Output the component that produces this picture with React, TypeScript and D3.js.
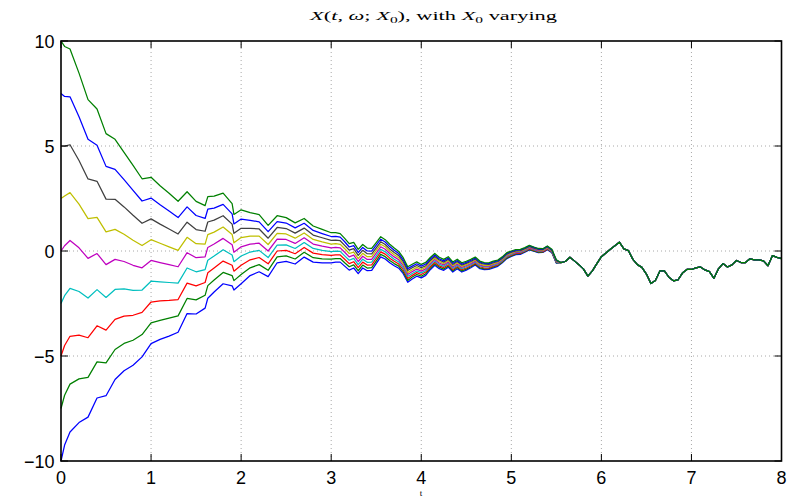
import React from "react";
import * as d3 from "d3";

// sample times (t axis)
const tEarly = [0,0.04,0.1,0.2,0.3,0.4,0.5,0.6,0.7,0.8,0.9,1,1.1,1.2,1.3,1.4,1.5,1.6,1.63,1.7,1.8,1.9,1.92,2,2.1,2.2,2.3,2.4,2.5,2.6,2.7,2.8,2.9,3];
const tLate = [3.05,3.1,3.15,3.2,3.25,3.3,3.35,3.4,3.45,3.5,3.55,3.6,3.65,3.7,3.75,3.8,3.85,3.9,3.95,4,4.05,4.1,4.15,4.2,4.25,4.3,4.35,4.4,4.45,4.5,4.55,4.6,4.65,4.7,4.75,4.8,4.85,4.9,4.95,5,5.05,5.1,5.15,5.2,5.25,5.3,5.35,5.4,5.45,5.5,5.55,5.6,5.65,5.7,5.75,5.8,5.85,5.9,5.95,6,6.05,6.1,6.15,6.2,6.25,6.3,6.35,6.4,6.45,6.5,6.55,6.6,6.65,6.7,6.75,6.8,6.85,6.9,6.95,7,7.05,7.1,7.15,7.2,7.25,7.3,7.35,7.4,7.45,7.5,7.55,7.6,7.65,7.7,7.75,7.8,7.85,7.9,7.95,8];
const times = [...tEarly, ...tLate];

const x0Values = [-10, -7.5, -5, -2.5, 0, 2.5, 5, 7.5, 10];
const seriesColors = ["#0000ff", "#008000", "#ff0000", "#00bfbf", "#bf00bf", "#bfbf00", "#404040", "#0000ff", "#008000"];

// per-series values for t = 0 .. 5.5
const pathNeg10 = [-10,-9.24,-8.62,-8.17,-7.91,-7.0,-6.89,-6.12,-5.7,-5.44,-5.04,-4.41,-4.21,-4.05,-3.87,-2.98,-3.0,-2.72,-2.25,-1.95,-1.56,-1.66,-1.86,-1.56,-1.17,-0.99,-1.22,-0.56,-0.49,-0.62,-0.29,-0.53,-0.57,-0.57,
  -0.53,-0.53,-0.72,-0.91,-0.81,-1.08,-0.81,-0.94,-0.92,-0.6,
  -0.28,-0.38,-0.56,-0.7,-0.82,-1.08,-1.49,-1.33,-1.2,-1.28,
  -1.16,-0.89,-0.68,-0.84,-0.92,-0.77,-1.0,-0.85,-1.0,-0.91,
  -0.8,-0.67,-0.84,-0.89,-0.88,-0.8,-0.73,-0.56,-0.36,-0.26,
  -0.17,-0.16,-0.06,0.05,-0.01,-0.08,-0.07,0.06,-0.08,-0.58];
const pathNeg75 = [-7.5,-6.87,-6.34,-6.09,-6.02,-5.28,-5.33,-4.69,-4.4,-4.25,-3.98,-3.42,-3.3,-3.2,-3.09,-2.26,-2.33,-2.11,-1.65,-1.38,-1.02,-1.17,-1.41,-1.12,-0.8,-0.65,-0.92,-0.28,-0.23,-0.38,-0.06,-0.32,-0.37,-0.39,
  -0.36,-0.36,-0.56,-0.75,-0.66,-0.94,-0.67,-0.81,-0.79,-0.48,
  -0.16,-0.27,-0.45,-0.6,-0.72,-0.99,-1.4,-1.24,-1.12,-1.2,
  -1.08,-0.82,-0.61,-0.77,-0.86,-0.71,-0.94,-0.79,-0.95,-0.86,
  -0.75,-0.62,-0.8,-0.85,-0.84,-0.76,-0.69,-0.53,-0.33,-0.23,
  -0.14,-0.13,-0.03,0.08,0.01,-0.06,-0.05,0.08,-0.06,-0.56];
const pathNeg5 = [-5,-4.5,-4.06,-4.01,-4.13,-3.56,-3.77,-3.26,-3.1,-3.06,-2.92,-2.43,-2.38,-2.35,-2.31,-1.53,-1.66,-1.5,-1.04,-0.81,-0.48,-0.68,-0.96,-0.68,-0.42,-0.31,-0.61,0.0,0.03,-0.13,0.17,-0.1,-0.17,-0.21,
  -0.18,-0.19,-0.39,-0.6,-0.51,-0.79,-0.53,-0.67,-0.66,-0.35,
  -0.04,-0.15,-0.34,-0.49,-0.62,-0.89,-1.31,-1.16,-1.03,-1.12,
  -1.0,-0.75,-0.54,-0.71,-0.79,-0.65,-0.88,-0.74,-0.89,-0.81,
  -0.7,-0.58,-0.75,-0.81,-0.8,-0.72,-0.66,-0.49,-0.29,-0.2,
  -0.11,-0.1,-0.01,0.1,0.04,-0.03,-0.03,0.1,-0.04,-0.54];
const pathNeg25 = [-2.5,-2.13,-1.78,-1.93,-2.24,-1.84,-2.21,-1.83,-1.8,-1.87,-1.86,-1.44,-1.47,-1.5,-1.53,-0.81,-0.99,-0.89,-0.44,-0.24,0.06,-0.19,-0.51,-0.24,-0.05,0.03,-0.31,0.28,0.29,0.12,0.4,0.12,0.03,-0.03,
  -0.01,-0.02,-0.23,-0.44,-0.35,-0.65,-0.39,-0.54,-0.53,-0.23,
  0.08,-0.04,-0.23,-0.39,-0.52,-0.8,-1.21,-1.07,-0.95,-1.04,
  -0.93,-0.67,-0.47,-0.64,-0.73,-0.58,-0.82,-0.68,-0.84,-0.75,
  -0.65,-0.53,-0.71,-0.76,-0.76,-0.68,-0.62,-0.46,-0.26,-0.16,
  -0.08,-0.07,0.02,0.13,0.06,-0.01,0.0,0.13,-0.02,-0.52];
const path0 = [0,0.25,0.5,0.15,-0.35,-0.12,-0.65,-0.4,-0.5,-0.68,-0.8,-0.45,-0.55,-0.65,-0.75,-0.08,-0.32,-0.28,0.17,0.33,0.6,0.3,-0.06,0.2,0.33,0.37,0.0,0.56,0.55,0.36,0.63,0.33,0.23,0.15,
  0.17,0.15,-0.06,-0.28,-0.2,-0.5,-0.25,-0.4,-0.4,-0.1,
  0.2,0.08,-0.12,-0.28,-0.42,-0.7,-1.12,-0.98,-0.86,-0.96,
  -0.85,-0.6,-0.4,-0.57,-0.66,-0.52,-0.76,-0.62,-0.78,-0.7,
  -0.6,-0.48,-0.66,-0.72,-0.72,-0.64,-0.58,-0.42,-0.22,-0.13,
  -0.05,-0.04,0.05,0.16,0.09,0.02,0.02,0.15,0.0,-0.5];
const path25 = [2.5,2.62,2.78,2.23,1.54,1.6,0.91,1.03,0.8,0.51,0.26,0.54,0.37,0.2,0.03,0.65,0.35,0.33,0.78,0.9,1.14,0.79,0.39,0.64,0.71,0.71,0.31,0.84,0.81,0.61,0.86,0.55,0.43,0.33,
  0.35,0.32,0.11,-0.12,-0.05,-0.36,-0.11,-0.27,-0.27,0.03,
  0.32,0.2,-0.01,-0.18,-0.32,-0.61,-1.03,-0.89,-0.78,-0.88,
  -0.77,-0.53,-0.33,-0.5,-0.6,-0.46,-0.7,-0.56,-0.73,-0.65,
  -0.55,-0.43,-0.62,-0.68,-0.68,-0.6,-0.54,-0.39,-0.19,-0.1,
  -0.02,-0.01,0.08,0.19,0.12,0.05,0.04,0.17,0.02,-0.48];
const path5 = [5,4.99,5.06,4.31,3.43,3.32,2.47,2.46,2.1,1.7,1.32,1.53,1.28,1.05,0.81,1.37,1.02,0.94,1.38,1.47,1.68,1.28,0.84,1.08,1.08,1.05,0.61,1.12,1.07,0.85,1.09,0.76,0.63,0.51,
  0.52,0.49,0.27,0.04,0.11,-0.21,0.03,-0.13,-0.14,0.15,
  0.44,0.31,0.1,-0.07,-0.22,-0.51,-0.93,-0.8,-0.69,-0.8,
  -0.7,-0.45,-0.26,-0.43,-0.53,-0.39,-0.64,-0.5,-0.67,-0.59,
  -0.5,-0.38,-0.57,-0.63,-0.64,-0.56,-0.5,-0.35,-0.15,-0.06,
  0.01,0.02,0.11,0.22,0.14,0.07,0.07,0.2,0.04,-0.46];
const path75 = [7.5,7.36,7.34,6.39,5.32,5.04,4.03,3.89,3.4,2.89,2.38,2.52,2.2,1.9,1.59,2.1,1.69,1.55,1.99,2.04,2.22,1.77,1.29,1.52,1.46,1.39,0.92,1.4,1.33,1.1,1.32,0.98,0.83,0.69,
  0.7,0.66,0.44,0.19,0.26,-0.07,0.17,0.0,-0.01,0.28,
  0.56,0.43,0.21,0.04,-0.12,-0.42,-0.84,-0.72,-0.61,-0.72,
  -0.62,-0.38,-0.19,-0.37,-0.47,-0.33,-0.58,-0.45,-0.62,-0.54,
  -0.45,-0.34,-0.53,-0.59,-0.6,-0.52,-0.47,-0.32,-0.12,-0.03,
  0.04,0.05,0.13,0.24,0.17,0.1,0.09,0.22,0.06,-0.44];
const path10 = [10,9.74,9.62,8.47,7.21,6.76,5.59,5.32,4.7,4.08,3.44,3.51,3.11,2.75,2.37,2.82,2.36,2.16,2.59,2.61,2.76,2.26,1.74,1.96,1.83,1.73,1.22,1.68,1.59,1.34,1.55,1.19,1.03,0.87,
  0.87,0.83,0.6,0.35,0.41,0.08,0.31,0.14,0.12,0.4,
  0.68,0.54,0.32,0.14,-0.02,-0.32,-0.75,-0.63,-0.52,-0.64,
  -0.54,-0.31,-0.12,-0.3,-0.4,-0.27,-0.52,-0.39,-0.56,-0.49,
  -0.4,-0.29,-0.48,-0.55,-0.56,-0.48,-0.43,-0.28,-0.08,0.0,
  0.07,0.08,0.16,0.27,0.19,0.12,0.11,0.24,0.08,-0.42];

// t = 5.55 .. 8: all paths have merged into one
const sharedTail = [-0.55,-0.5,-0.3,-0.47,-0.65,-0.85,-1.2,-0.95,-0.6,-0.27,
  -0.1,0.08,0.25,0.42,0.1,0.02,-0.4,-0.65,-0.78,-1.1,
  -1.55,-1.4,-0.95,-0.95,-1.25,-1.42,-1.38,-1.05,-0.88,-0.88,
  -0.8,-0.76,-0.9,-0.98,-1.3,-0.85,-0.6,-0.76,-0.66,-0.45,
  -0.55,-0.55,-0.37,-0.42,-0.42,-0.47,-0.7,-0.22,-0.3,-0.36];

const seriesData = [pathNeg10, pathNeg75, pathNeg5, pathNeg25, path0, path25, path5, path75, path10];

const xTicks = [0, 1, 2, 3, 4, 5, 6, 7, 8];
const yTicks = [-10, -5, 0, 5, 10];

const W = 795, H = 497;
const L = 61, R = 781.5, T = 41, B = 461;

export default function App() {
  const x = d3.scaleLinear().domain([0, 8]).range([L, R]);
  const y = d3.scaleLinear().domain([-10, 10]).range([B, T]);
  const line = d3.line<number>().x((_, i) => x(times[i])).y((d) => y(d));
  const fmt = (v: number) => (v < 0 ? "\u2212" + Math.abs(v) : String(v));
  const tickLen = 7;

  return (
    <div style={{ position: "absolute", left: 0, top: 0 }}>
      <svg width={W} height={H} style={{ display: "block", background: "#fff" }}>
        <rect x={0} y={0} width={W} height={H} fill="#fff" />
        {/* grid */}
        {xTicks.filter((t) => t > 0 && t < 8).map((t) => (
          <line key={"gx" + t} x1={x(t)} x2={x(t)} y1={B} y2={T} stroke="#a8a8a8" strokeWidth={1} strokeDasharray="1,3" />
        ))}
        {yTicks.filter((t) => t > -10 && t < 10).map((t) => (
          <line key={"gy" + t} x1={L} x2={R} y1={y(t)} y2={y(t)} stroke="#a8a8a8" strokeWidth={1} strokeDasharray="1,3" />
        ))}
        {/* series */}
        {seriesData.map((vals, k) => (
          <path key={"s" + x0Values[k]} d={line(vals.concat(sharedTail)) || ""} fill="none" stroke={seriesColors[k]} strokeWidth={1.25} strokeLinejoin="round" />
        ))}
        {/* ticks */}
        {xTicks.map((t) => (
          <g key={"tx" + t}>
            <line x1={x(t)} x2={x(t)} y1={B} y2={B - tickLen} stroke="#000" strokeWidth={1} />
            <line x1={x(t)} x2={x(t)} y1={T} y2={T + tickLen} stroke="#000" strokeWidth={1} />
            <text x={x(t)} y={B + 23} textAnchor="middle" fontFamily="Liberation Sans, Arial, sans-serif" fontSize={18} fill="#000">{fmt(t)}</text>
          </g>
        ))}
        {yTicks.map((t) => (
          <g key={"ty" + t}>
            <line x1={L} x2={L + tickLen} y1={y(t)} y2={y(t)} stroke="#000" strokeWidth={1} />
            <line x1={R} x2={R - tickLen} y1={y(t)} y2={y(t)} stroke="#000" strokeWidth={1} />
            <text x={54.5} y={y(t) + 7} textAnchor="end" fontFamily="Liberation Sans, Arial, sans-serif" fontSize={18} fill="#000">{fmt(t)}</text>
          </g>
        ))}
        {/* box */}
        <rect x={L} y={T} width={R - L} height={B - T} fill="none" stroke="#000" strokeWidth={1.6} />
        {/* title */}
        <text x={310} y={20} fontFamily="Liberation Serif, serif" fontSize={13} fill="#000" textLength={247} lengthAdjust="spacingAndGlyphs">
          <tspan fontStyle="italic">X</tspan>
          <tspan>(</tspan>
          <tspan fontStyle="italic">t</tspan>
          <tspan>, </tspan>
          <tspan fontStyle="italic">ω</tspan>
          <tspan>; </tspan>
          <tspan fontStyle="italic">X</tspan>
          <tspan fontSize={9} dy={3}>0</tspan>
          <tspan dy={-3}>), with </tspan>
          <tspan fontStyle="italic">X</tspan>
          <tspan fontSize={9} dy={3}>0</tspan>
          <tspan dy={-3}> varying</tspan>
        </text>
        {/* x label */}
        <text x={421} y={496} textAnchor="middle" fontFamily="Liberation Serif, serif" fontSize={9} fill="#000">t</text>
      </svg>
    </div>
  );
}
